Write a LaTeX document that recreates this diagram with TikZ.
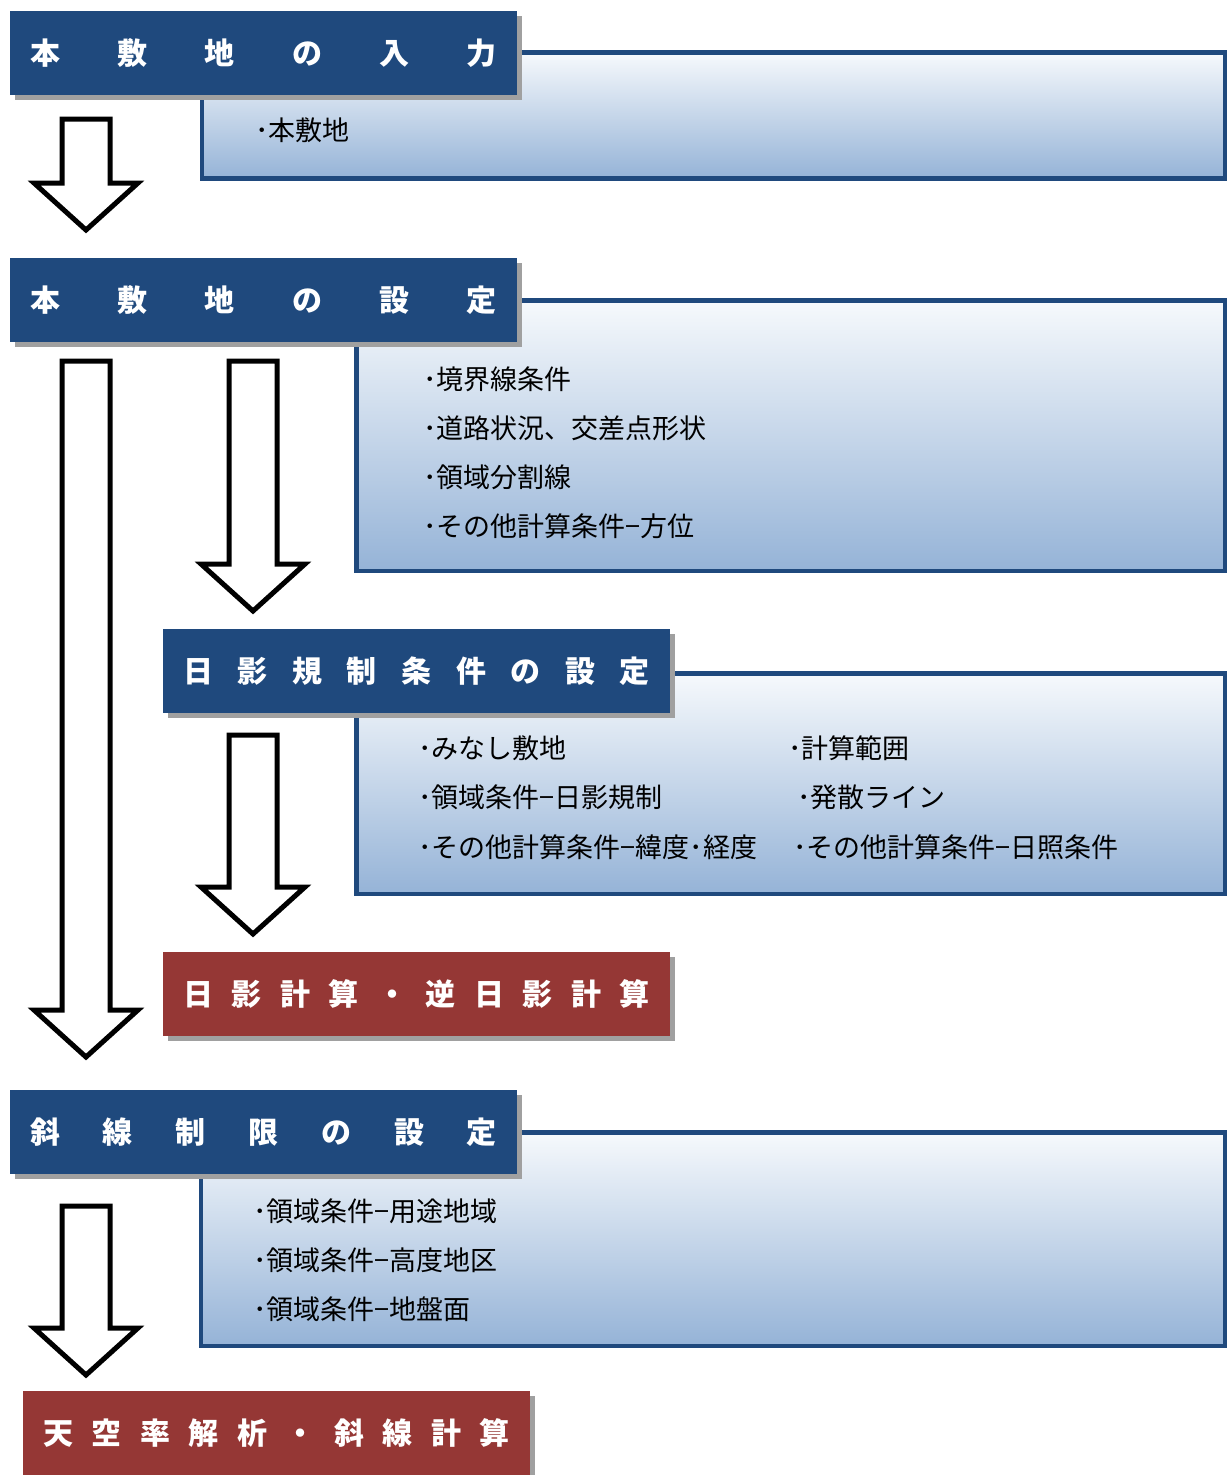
\documentclass[tikz,border=0pt]{standalone}
\usepackage{fontspec}
\setmainfont{Noto Sans CJK JP}
\usetikzlibrary{calc,shadows}

\definecolor{headblue}{RGB}{31,73,125}
\definecolor{resultred}{RGB}{149,55,53}
\definecolor{shadowgray}{RGB}{160,160,160}
\definecolor{notetop}{RGB}{246,249,252}
\definecolor{notemid}{RGB}{222,230,241}
\definecolor{notebottom}{RGB}{149,179,215}

\newcommand{\spreadtext}[1]{\makebox[467pt][s]{#1}}
\newcommand{\hollowdown}[2]{%
  \draw[blockarrow] ($(#1)+(-24,0)$) -- ($(#2)+(-24,-47)$) -- ($(#2)+(-52,-47)$) -- (#2)
    -- ($(#2)+(52,-47)$) -- ($(#2)+(24,-47)$) -- ($(#1)+(24,0)$) -- cycle;}

\begin{document}
\begin{tikzpicture}[x=1pt,y=-1pt]

%
% Styles
%
\tikzstyle{header} = [rectangle,anchor=north west,inner sep=0pt,outer sep=0pt,minimum width=507pt,minimum height=84pt,fill=headblue,text=white,font=\fontsize{30pt}{32pt}\selectfont\bfseries,drop shadow={shadow xshift=5pt,shadow yshift=-5pt,fill=shadowgray,opacity=1}]
\tikzstyle{result} = [header,fill=resultred]
\tikzstyle{note} = [rectangle,anchor=north west,inner sep=0pt,outer sep=0pt,draw=headblue,line width=4.5pt,top color=notetop,middle color=notemid,bottom color=notebottom]
\tikzstyle{item} = [anchor=west,inner sep=0pt,font=\fontsize{27pt}{30pt}\selectfont]
\tikzstyle{blockarrow} = [draw=black,line width=5pt,fill=white]

\useasboundingbox (0,0) rectangle (1228,1475);

% note boxes
\node[note,minimum width=1023pt,minimum height=126pt] (noteA) at (202,52.5) {};
\node[note,minimum width=868.5pt,minimum height=270.5pt] (noteB) at (356.5,300.5) {};
\node[note,minimum width=868.5pt,minimum height=220.5pt] (noteC) at (356.5,673.5) {};
\node[note,minimum width=1024pt,minimum height=213.5pt] (noteD) at (201,1132.5) {};

% headers
\node[header] (hdrA) at ( 10,  11) {\spreadtext{本\hfill 敷\hfill 地\hfill の\hfill 入\hfill 力}};
\node[header] (hdrB) at ( 10, 258) {\spreadtext{本\hfill 敷\hfill 地\hfill の\hfill 設\hfill 定}};
\node[header] (hdrC) at (163, 629) {\spreadtext{日\hfill 影\hfill 規\hfill 制\hfill 条\hfill 件\hfill の\hfill 設\hfill 定}};
\node[result] (resA) at (163, 952) {\spreadtext{日\hfill 影\hfill 計\hfill 算\hfill ・\hfill 逆\hfill 日\hfill 影\hfill 計\hfill 算}};
\node[header] (hdrD) at ( 10,1090) {\spreadtext{斜\hfill 線\hfill 制\hfill 限\hfill の\hfill 設\hfill 定}};
\node[result] (resB) at ( 23,1391) {\spreadtext{天\hfill 空\hfill 率\hfill 解\hfill 析\hfill ・\hfill 斜\hfill 線\hfill 計\hfill 算}};

% items
\node[item] (itmA1) at (255, 130) {･本敷地};
\node[item] (itmB1) at (423, 379) {･境界線条件};
\node[item] (itmB2) at (423, 428) {･道路状況、交差点形状};
\node[item] (itmB3) at (423, 477) {･領域分割線};
\node[item] (itmB4) at (423, 526) {･その他計算条件−方位};
\node[item] (itmC1) at (418, 748) {･みなし敷地};
\node[item] (itmC2) at (418, 797) {･領域条件−日影規制};
\node[item] (itmC3) at (418, 847) {･その他計算条件−緯度･経度};
\node[item] (itmC4) at (788, 748) {･計算範囲};
\node[item] (itmC5) at (797, 797) {･発散ライン};
\node[item] (itmC6) at (793, 847) {･その他計算条件−日照条件};
\node[item] (itmD1) at (253,1211) {･領域条件−用途地域};
\node[item] (itmD2) at (253,1260) {･領域条件−高度地区};
\node[item] (itmD3) at (253,1309) {･領域条件−地盤面};

% arrows
\coordinate (arrAtop) at ( 86, 119);
\coordinate (arrAtip) at ( 86, 230);
\coordinate (arrBtop) at ( 86, 361);
\coordinate (arrBtip) at ( 86,1057);
\coordinate (arrCtop) at (253, 361);
\coordinate (arrCtip) at (253, 611);
\coordinate (arrDtop) at (253, 735);
\coordinate (arrDtip) at (253, 934);
\coordinate (arrEtop) at ( 86,1206);
\coordinate (arrEtip) at ( 86,1375);

\hollowdown{arrAtop}{arrAtip}
\hollowdown{arrBtop}{arrBtip}
\hollowdown{arrCtop}{arrCtip}
\hollowdown{arrDtop}{arrDtip}
\hollowdown{arrEtop}{arrEtip}

\end{tikzpicture}
\end{document}
